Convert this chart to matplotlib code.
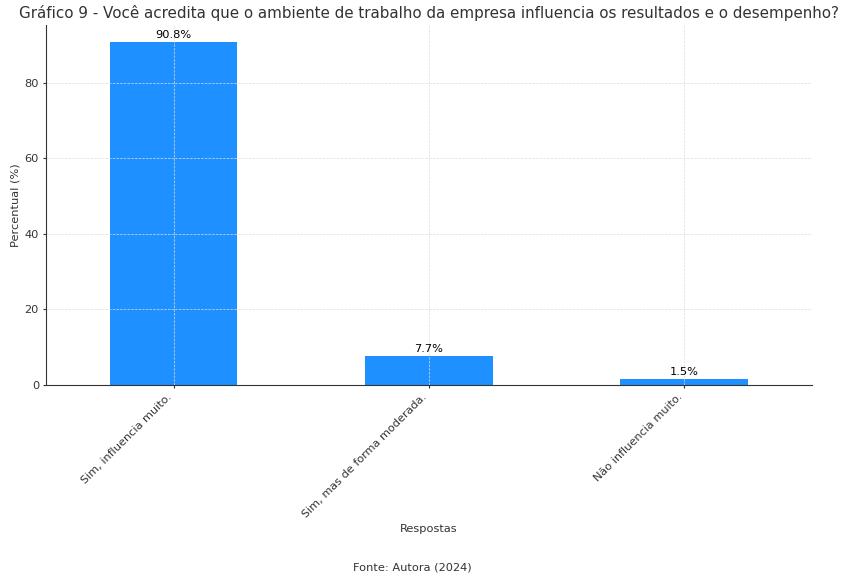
import pandas as pd
import matplotlib.pyplot as plt

respostas = ['Sim, influencia muito.', 'Sim, mas de forma moderada.', 'Não influencia muito.']
percentuais = [90.8, 7.7, 1.5]

df = pd.DataFrame({'Resposta': respostas, 'Percentual': percentuais})

fig = plt.figure(figsize=(8.42, 5.76), dpi=100)
ax = fig.add_axes([0.0546, 0.332, 0.9094, 0.6246])

df.plot(kind='bar', x='Resposta', y='Percentual', ax=ax, color='#1E90FF', legend=False)

for i, v in enumerate(df['Percentual']):
    ax.text(i, v + 0.5, f'{v}%', ha='center', va='bottom', fontsize=8.2)

ax.set_title('Gráfico 9 - Você acredita que o ambiente de trabalho da empresa influencia os resultados e o desempenho?',
             fontsize=10.9, color='#333333', pad=5)
ax.set_xlabel('Respostas', fontsize=8.2, color='#333333', labelpad=3)
ax.set_ylabel('Percentual (%)', fontsize=8.2, color='#333333', labelpad=3)
ax.set_xticklabels(respostas, rotation=45, ha='right', fontsize=8.1, color='#333333')
ax.tick_params(axis='both', length=2.5, pad=2.5, color='#333333')
ax.tick_params(axis='y', labelsize=8.2, labelcolor='#333333')
ax.grid(True, linestyle='--', linewidth=0.5, color='#dddddd')
ax.spines['top'].set_visible(False)
ax.spines['right'].set_visible(False)
ax.spines['left'].set_color('#333333')
ax.spines['bottom'].set_color('#333333')

fig.text(0.49, 0.01, 'Fonte: Autora (2024)', ha='center', fontsize=8.2, color='#333333')

fig.savefig('out.png', dpi=100)
